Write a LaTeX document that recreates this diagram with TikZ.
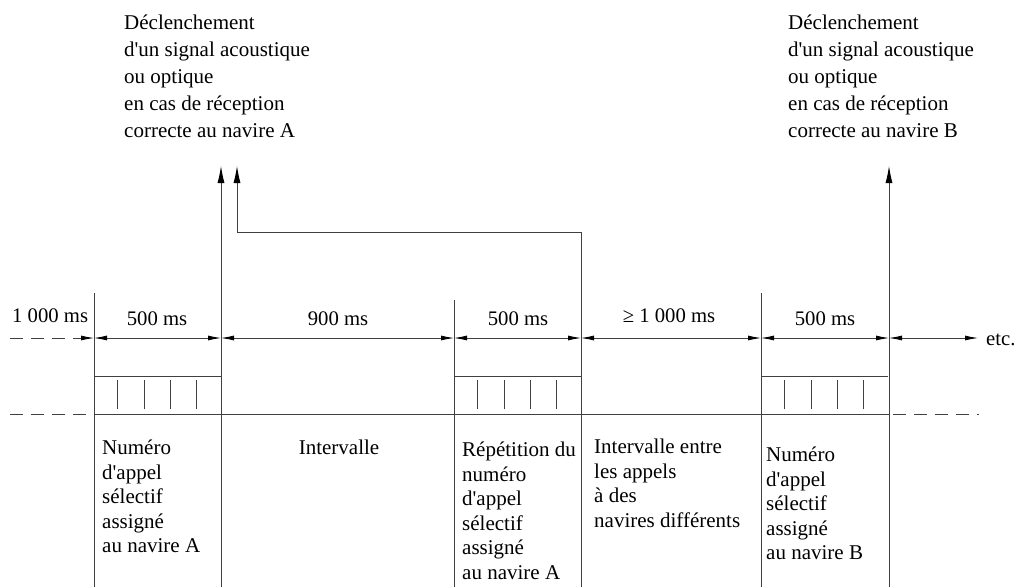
\documentclass[tikz,border=0pt]{standalone}
\usepackage{fontspec}
\setmainfont[Ligatures=TeXOff]{Liberation Serif}
\usetikzlibrary{arrows.meta}
\begin{document}
\begin{tikzpicture}[x=1pt,y=-1pt,
  ln/.style={line width=0.8pt, draw=black!75},
  dimarrow/.style={ln, {Latex[length=13pt,width=5pt,color=black]}-{Latex[length=13pt,width=5pt,color=black]}},
  onearrow/.style={ln, -{Latex[length=13pt,width=5pt,color=black]}},
  uparrow/.style={ln, -{Latex[length=17pt,width=7pt,color=black]}},
  dashedline/.style={ln, dash pattern=on 13pt off 8pt},
  toptext/.style={inner sep=0pt, anchor=north west, align=left, font=\fontsize{21}{27}\selectfont},
  bottext/.style={inner sep=0pt, anchor=north west, align=left, font=\fontsize{21}{24.5}\selectfont},
  lbl/.style={inner sep=0pt, anchor=base, font=\fontsize{20.7}{24.5}\selectfont},
]
\useasboundingbox (0,0) rectangle (1017,587);

% key x positions
\coordinate (aT) at (94,293);   \coordinate (aB) at (94,587);
\coordinate (bT) at (221,166);  \coordinate (bB) at (221,587);
\coordinate (cT) at (454,300);  \coordinate (cB) at (454,587);
\coordinate (dT) at (581,232);  \coordinate (dB) at (581,587);
\coordinate (eT) at (761,293);  \coordinate (eB) at (761,587);
\coordinate (fT) at (889,166);  \coordinate (fB) at (889,587);
\coordinate (gT) at (237,166);  \coordinate (gC) at (237,232);

% vertical lines
\draw[ln] (aT) -- (aB);
\draw[ln] (cT) -- (cB);
\draw[ln] (eT) -- (eB);
\draw[ln] (dB) -- (dT);
\draw[uparrow] (bB) -- (bT);
\draw[uparrow] (fB) -- (fT);
\draw[uparrow] (dT) -- (gC) -- (gT);

% dimension arrows
\coordinate (a1) at (94,338); \coordinate (b1) at (221,338);
\coordinate (c1) at (454,338); \coordinate (d1) at (581,338);
\coordinate (e1) at (761,338); \coordinate (f1) at (889,338);
\coordinate (l1) at (10,338);  \coordinate (r1) at (978,338);
\coordinate (m1) at (78,338);
\draw[dashedline] (l1) -- (m1);
\draw[onearrow] (m1) -- (a1);
\draw[dimarrow] (a1) -- (b1);
\draw[dimarrow] (b1) -- (c1);
\draw[dimarrow] (c1) -- (d1);
\draw[dimarrow] (d1) -- (e1);
\draw[dimarrow] (e1) -- (f1);
\draw[dimarrow] (f1) -- (r1);

% baseline and signal boxes
\coordinate (a2) at (94,414); \coordinate (f2) at (889,414);
\coordinate (l2) at (10,414); \coordinate (r2a) at (893,414); \coordinate (r2b) at (979,414);
\draw[ln] (a2) -- (f2);
\draw[dashedline] (l2) -- (a2);
\draw[dashedline] (r2a) -- (r2b);
\foreach \x in {94,454,761} {
  \draw[ln] (\x,376) -- (\x+127,376);
  \foreach \t in {23.7,50,76.3,102.7}
    \draw[ln] (\x+\t,380) -- (\x+\t,409);
}

% labels of durations
\node[lbl, anchor=base west] (t1000) at (12,322) {1 000 ms};
\node[lbl] (t500a) at (157,325) {500 ms};
\node[lbl] (t900) at (338,325) {900 ms};
\node[lbl] (t500b) at (518,325) {500 ms};
\node[lbl] (tge) at (669,322) {≥ 1 000 ms};
\node[lbl] (t500c) at (825,325) {500 ms};
\node[lbl, anchor=base west] (etc) at (986,345) {etc.};

% top texts
\node[toptext] (topA) at (124,15) {Déclenchement\\d'un signal acoustique\\ou optique\\en cas de réception\\correcte au navire A};
\node[toptext] (topB) at (788,15) {Déclenchement\\d'un signal acoustique\\ou optique\\en cas de réception\\correcte au navire B};

% bottom texts
\node[bottext] (botA) at (102,440) {Numéro\\d'appel\\sélectif\\assigné\\au navire A};
\node[bottext, anchor=north] (botI) at (339,440) {Intervalle};
\node[bottext] (botR) at (462,442) {Répétition du\\numéro\\d'appel\\sélectif\\assigné\\au navire A};
\node[bottext] (botE) at (594,439) {Intervalle entre\\les appels\\à des\\navires différents};
\node[bottext] (botB) at (766,447) {Numéro\\d'appel\\sélectif\\assigné\\au navire B};
\end{tikzpicture}
\end{document}
